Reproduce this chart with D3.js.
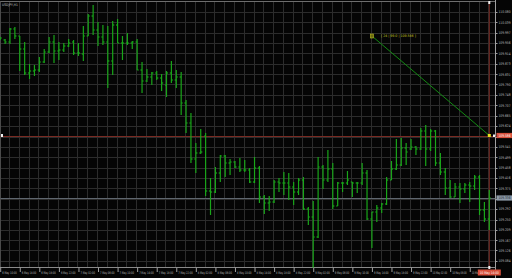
<!DOCTYPE html>
<html lang="en">
<head>
<meta charset="utf-8">
<title>USDJPY,H1</title>
<script src="https://cdn.jsdelivr.net/npm/d3@7"></script>
<style>
  html, body { margin: 0; padding: 0; background: #000; overflow: hidden; }
  text { font-family: "DejaVu Sans", sans-serif; }
</style>
</head>
<body>
<script>
var w = 512;
var h = 278;
var plotLeft = 0.5, plotRight = 495.5, plotTop = 1.5, plotBottom = 267.5;

// OHLC of the H1 bars, oldest first
var opens = [109.976, 109.968, 109.960, 110.012, 109.984, 109.932, 109.836, 109.844, 109.848, 109.880,
             109.920, 109.960, 109.924, 109.928, 109.944, 109.960, 109.916, 109.912, 109.984, 110.064,
             110.008, 109.980, 109.960, 109.884, 110.028, 109.956, 109.956, 109.956, 109.960, 109.848,
             109.804, 109.820, 109.836, 109.816, 109.788, 109.836, 109.808, 109.820, 109.716, 109.636,
             109.492, 109.516, 109.584, 109.364, 109.360, 109.436, 109.504, 109.476, 109.480, 109.460,
             109.448, 109.448, 109.400, 109.456, 109.340, 109.316, 109.320, 109.400, 109.396, 109.396,
             109.380, 109.360, 109.408, 109.292, 109.260, 109.180, 109.460, 109.408, 109.452, 109.304,
             109.396, 109.396, 109.400, 109.396, 109.396, 109.436, 109.252, 109.280, 109.296, 109.312,
             109.408, 109.452, 109.468, 109.536, 109.532, 109.540, 109.532, 109.604, 109.532, 109.604,
             109.476, 109.440, 109.376, 109.340, 109.380, 109.372, 109.388, 109.384, 109.420, 109.288,
             109.252];
var highs = [109.980, 109.972, 110.016, 110.020, 109.984, 109.960, 109.872, 109.868, 109.900, 109.932,
             109.980, 109.988, 109.960, 109.956, 109.972, 109.968, 109.956, 110.024, 110.072, 110.108,
             110.040, 110.028, 110.024, 110.044, 110.052, 109.984, 109.996, 109.964, 109.972, 109.880,
             109.852, 109.840, 109.844, 109.832, 109.844, 109.884, 109.848, 109.840, 109.728, 109.676,
             109.556, 109.612, 109.596, 109.416, 109.460, 109.508, 109.508, 109.492, 109.484, 109.496,
             109.488, 109.456, 109.500, 109.464, 109.348, 109.344, 109.408, 109.416, 109.440, 109.436,
             109.400, 109.416, 109.420, 109.300, 109.324, 109.500, 109.468, 109.528, 109.476, 109.400,
             109.400, 109.444, 109.400, 109.400, 109.476, 109.448, 109.280, 109.308, 109.316, 109.420,
             109.484, 109.572, 109.576, 109.556, 109.572, 109.544, 109.616, 109.628, 109.612, 109.608,
             109.516, 109.456, 109.408, 109.396, 109.396, 109.396, 109.400, 109.428, 109.428, 109.320,
             109.368];
var lows = [109.968, 109.952, 109.952, 109.972, 109.844, 109.828, 109.812, 109.824, 109.840, 109.876,
            109.916, 109.876, 109.888, 109.920, 109.940, 109.908, 109.904, 109.884, 109.984, 109.988,
            109.944, 109.948, 109.776, 109.828, 109.956, 109.888, 109.948, 109.932, 109.848, 109.756,
            109.800, 109.788, 109.808, 109.764, 109.740, 109.796, 109.776, 109.668, 109.596, 109.476,
            109.436, 109.512, 109.344, 109.268, 109.356, 109.400, 109.420, 109.428, 109.456, 109.440,
            109.440, 109.396, 109.396, 109.316, 109.272, 109.284, 109.316, 109.360, 109.348, 109.328,
            109.308, 109.348, 109.288, 109.228, 109.056, 109.176, 109.372, 109.400, 109.292, 109.304,
            109.360, 109.388, 109.340, 109.356, 109.388, 109.248, 109.136, 109.240, 109.276, 109.308,
            109.408, 109.448, 109.464, 109.468, 109.528, 109.508, 109.528, 109.464, 109.524, 109.464,
            109.428, 109.348, 109.336, 109.340, 109.316, 109.356, 109.320, 109.368, 109.268, 109.240,
            109.208];
var closes = [109.976, 109.960, 110.012, 109.984, 109.932, 109.836, 109.844, 109.848, 109.880, 109.920,
              109.960, 109.924, 109.928, 109.944, 109.956, 109.916, 109.916, 109.984, 110.064, 110.008,
              109.980, 109.960, 109.884, 110.028, 109.956, 109.956, 109.956, 109.960, 109.848, 109.804,
              109.820, 109.836, 109.816, 109.796, 109.836, 109.808, 109.820, 109.716, 109.636, 109.492,
              109.516, 109.520, 109.364, 109.360, 109.436, 109.504, 109.476, 109.480, 109.460, 109.448,
              109.448, 109.400, 109.456, 109.340, 109.316, 109.320, 109.400, 109.396, 109.396, 109.380,
              109.360, 109.408, 109.292, 109.260, 109.180, 109.460, 109.408, 109.452, 109.304, 109.396,
              109.396, 109.408, 109.396, 109.396, 109.436, 109.252, 109.280, 109.296, 109.312, 109.408,
              109.452, 109.468, 109.536, 109.520, 109.540, 109.532, 109.604, 109.532, 109.604, 109.476,
              109.440, 109.376, 109.340, 109.380, 109.372, 109.388, 109.384, 109.420, 109.288, 109.252,
              109.336];

var priceTicks = [110.080, 110.039, 109.997, 109.956, 109.914, 109.873, 109.831, 109.790, 109.748,
                  109.707, 109.665, 109.624, 109.582, 109.541, 109.499, 109.458, 109.416, 109.375,
                  109.333, 109.292, 109.250, 109.209, 109.167, 109.126, 109.084];

var timeLabels = ["6 May 10:00", "6 May 14:00", "6 May 18:00", "6 May 22:00", "7 May 02:00",
                  "7 May 06:00", "7 May 10:00", "7 May 14:00", "7 May 18:00", "7 May 22:00",
                  "8 May 02:00", "8 May 06:00", "8 May 10:00", "8 May 14:00", "8 May 18:00",
                  "8 May 22:00", "9 May 02:00", "9 May 06:00", "9 May 10:00", "9 May 14:00",
                  "9 May 18:00", "9 May 22:00", "10 May 02:00", "10 May 06:00", "10 May 10:00"];
var barsPerLabel = 4;

var levelPrice = 109.586;   // red horizontal line
var bidPrice = 109.336;     // grey bid line
var vlineBar = 100;
var vlineLabel = "10 May 14:00";
var trendBars = [76, 100];
var trendPrices = [109.984, 109.586];
var trendText = "[ 24 | 99.0 | 109.586 ]";

var n = opens.length;
var bars = d3.range(n).map(function (i) {
  return { i: i, o: opens[i], h: highs[i], l: lows[i], c: closes[i] };
});

var x = d3.scaleLinear().domain([0, n - 1]).range([0.2, 489.3]);
var y = d3.scaleLinear().domain([110.080, 109.084]).range([12, 261]);

var svg = d3.select("body").append("svg").attr("width", w).attr("height", h);
svg.append("rect").attr("width", w).attr("height", h).attr("fill", "#050505");

// grid
var grid = svg.append("g").attr("stroke", "#2c2c2c").attr("stroke-width", 1);
grid.selectAll("line.gx").data(d3.range(0, n, 2)).enter().append("line")
  .attr("x1", function (d) { return Math.round(x(d)) - 0.5; })
  .attr("x2", function (d) { return Math.round(x(d)) - 0.5; })
  .attr("y1", plotTop).attr("y2", plotBottom);
grid.selectAll("line.gy").data(priceTicks).enter().append("line")
  .attr("x1", plotLeft).attr("x2", plotRight)
  .attr("y1", function (d) { return Math.round(y(d)) + 0.5; })
  .attr("y2", function (d) { return Math.round(y(d)) + 0.5; });

// frame
svg.append("line").attr("x1", 0).attr("x2", plotRight).attr("y1", plotTop).attr("y2", plotTop).attr("stroke", "#6e6e6e");
svg.append("line").attr("x1", plotLeft).attr("x2", plotLeft).attr("y1", plotTop).attr("y2", plotBottom).attr("stroke", "#4a4a4a");
svg.append("line").attr("x1", plotRight).attr("x2", plotRight).attr("y1", 0).attr("y2", h).attr("stroke", "#a0a0a0");
svg.append("line").attr("x1", 0).attr("x2", plotRight).attr("y1", plotBottom).attr("y2", plotBottom).attr("stroke", "#8a8a8a");

// bid line
svg.append("line").attr("x1", plotLeft).attr("x2", plotRight)
  .attr("y1", Math.round(y(bidPrice)) + 0.5).attr("y2", Math.round(y(bidPrice)) + 0.5)
  .attr("stroke", "#5f666e");

// red horizontal line
svg.append("line").attr("x1", plotLeft).attr("x2", plotRight)
  .attr("y1", Math.round(y(levelPrice)) + 0.5).attr("y2", Math.round(y(levelPrice)) + 0.5)
  .attr("stroke", "#7a2a22").attr("stroke-width", 1.2);

// red vertical line
svg.append("line").attr("x1", x(vlineBar)).attr("x2", x(vlineBar))
  .attr("y1", plotTop).attr("y2", plotBottom)
  .attr("stroke", "#7a2a22");

// OHLC bars
var g = svg.append("g").attr("stroke", "#19a619").attr("stroke-width", 1.2);
var bar = g.selectAll("g").data(bars).enter().append("g");
bar.append("line")
  .attr("x1", function (d) { return x(d.i); }).attr("x2", function (d) { return x(d.i); })
  .attr("y1", function (d) { return y(d.h); }).attr("y2", function (d) { return y(d.l); });
bar.append("line")
  .attr("x1", function (d) { return x(d.i) - 1.6; }).attr("x2", function (d) { return x(d.i); })
  .attr("y1", function (d) { return y(d.o); }).attr("y2", function (d) { return y(d.o); });
bar.append("line")
  .attr("x1", function (d) { return x(d.i); }).attr("x2", function (d) { return x(d.i) + 1.6; })
  .attr("y1", function (d) { return y(d.c); }).attr("y2", function (d) { return y(d.c); });

// trend line
svg.append("line")
  .attr("x1", x(trendBars[0])).attr("y1", y(trendPrices[0]))
  .attr("x2", x(trendBars[1])).attr("y2", y(trendPrices[1]))
  .attr("stroke", "#138a13").attr("stroke-width", 1);
svg.append("rect")
  .attr("x", x(trendBars[0]) - 1.5).attr("y", y(trendPrices[0]) - 2)
  .attr("width", 3).attr("height", 4)
  .attr("fill", "#6b6b10").attr("stroke", "#b8b820").attr("stroke-width", 0.6);
svg.append("text").attr("x", x(trendBars[0]) + 9).attr("y", y(trendPrices[0]) + 1.3)
  .attr("font-size", "3.4px").attr("fill", "#c8c81e")
  .attr("textLength", 35).attr("lengthAdjust", "spacingAndGlyphs").text(trendText);
svg.append("rect")
  .attr("x", x(trendBars[1]) - 1.5).attr("y", y(trendPrices[1]) - 1.5)
  .attr("width", 3).attr("height", 3).attr("fill", "#e8e020");

// selection handles
svg.append("rect").attr("x", 1).attr("y", y(levelPrice) - 1.5).attr("width", 2).attr("height", 3).attr("fill", "#f0f0f0");
svg.append("rect").attr("x", x(vlineBar) - 1).attr("y", 1).attr("width", 2).attr("height", 3).attr("fill", "#f0f0f0");
svg.append("rect").attr("x", plotRight - 2.5).attr("y", y(levelPrice) - 1).attr("width", 2).attr("height", 2.5).attr("fill", "#f0f0f0");

// price axis
var pAxis = svg.append("g");
pAxis.selectAll("line").data(priceTicks).enter().append("line")
  .attr("x1", plotRight).attr("x2", plotRight + 2)
  .attr("y1", function (d) { return Math.round(y(d)) + 0.5; })
  .attr("y2", function (d) { return Math.round(y(d)) + 0.5; })
  .attr("stroke", "#a0a0a0");
pAxis.selectAll("text").data(priceTicks).enter().append("text")
  .attr("x", plotRight + 3).attr("y", function (d) { return y(d) + 1.3; })
  .attr("font-size", "3.6px").attr("fill", "#bdbdbd")
  .attr("textLength", 12).attr("lengthAdjust", "spacingAndGlyphs")
  .text(function (d) { return d.toFixed(3); });

// price boxes
function priceBox(p, bg, fg) {
  var yy = y(p);
  svg.append("rect").attr("x", plotRight + 1).attr("y", yy - 2.6)
    .attr("width", w - plotRight - 1).attr("height", 5.2).attr("fill", bg);
  svg.append("text").attr("x", plotRight + 3).attr("y", yy + 1.3)
    .attr("font-size", "3.6px").attr("fill", fg)
    .attr("textLength", 12).attr("lengthAdjust", "spacingAndGlyphs").text(p.toFixed(3));
}
priceBox(levelPrice, "#d8503c", "#ffffff");
priceBox(bidPrice, "#8d9aa8", "#202830");

// title
svg.append("text").attr("x", 2).attr("y", 5.5).attr("font-size", "3.6px").attr("fill", "#c0c0c0")
  .attr("textLength", 16).attr("lengthAdjust", "spacingAndGlyphs").text("USDJPY,H1");

// time axis
var tAxis = svg.append("g");
var tl = tAxis.selectAll("g").data(timeLabels).enter().append("g")
  .attr("transform", function (d, k) { return "translate(" + x(k * barsPerLabel) + ",0)"; });
tl.append("line").attr("x1", 0.5).attr("x2", 0.5).attr("y1", plotBottom).attr("y2", 272)
  .attr("stroke", "#a0a0a0");
tl.append("text").attr("x", 2).attr("y", 273.5)
  .attr("font-size", "3.4px").attr("fill", "#bdbdbd")
  .attr("textLength", 14.5).attr("lengthAdjust", "spacingAndGlyphs")
  .text(function (d) { return d; });

// vertical line time box (drawn over the last label, as in the terminal)
var vx = x(vlineBar);
svg.append("rect").attr("x", vx - 11.5).attr("y", 269.5).attr("width", 23).attr("height", 6)
  .attr("fill", "#d8503c");
svg.append("text").attr("x", vx - 9.5).attr("y", 273.8)
  .attr("font-size", "3.4px").attr("fill", "#ffffff")
  .attr("textLength", 19).attr("lengthAdjust", "spacingAndGlyphs").text(vlineLabel);
svg.append("rect").attr("x", vx - 1).attr("y", 266).attr("width", 2).attr("height", 3).attr("fill", "#f0f0f0");
</script>
</body>
</html>
